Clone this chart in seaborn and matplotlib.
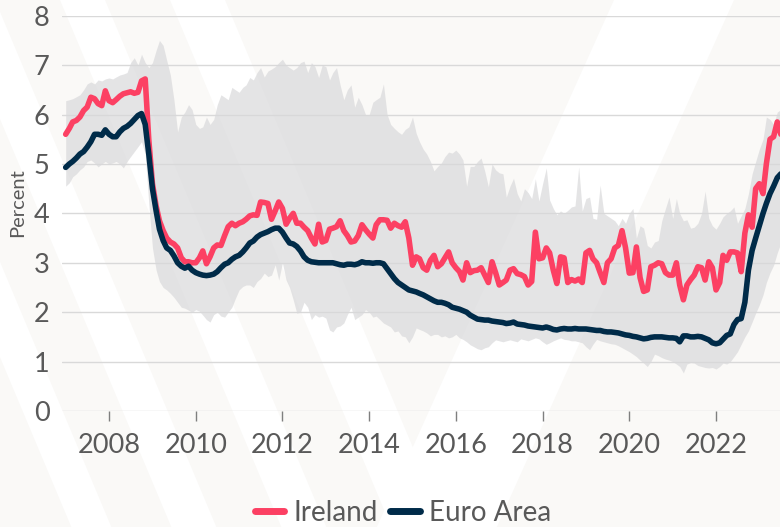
import numpy as np
import pandas as pd
import matplotlib
matplotlib.use("Agg")
import matplotlib.pyplot as plt
import matplotlib.dates as mdates
from matplotlib.lines import Line2D
from matplotlib.patches import Polygon
import seaborn as sns

# ---------------- data (monthly, Jan 2007 - Jul 2023) ----------------
months = pd.date_range("2007-01-01", periods=199, freq="MS")

ireland = [
    5.60, 5.72, 5.85, 5.88, 5.95, 6.08, 6.15, 6.35, 6.32, 6.22, 6.18, 6.48,
    6.28, 6.24, 6.30, 6.37, 6.42, 6.44, 6.46, 6.43, 6.45, 6.68, 6.72, 5.50,
    4.60, 4.15, 3.85, 3.65, 3.50, 3.42, 3.38, 3.30, 3.10, 3.02, 3.02, 3.00,
    3.00, 3.10, 3.24, 2.98, 3.12, 3.30, 3.36, 3.35, 3.55, 3.73, 3.80, 3.75,
    3.80, 3.83, 3.88, 3.95, 3.97, 3.96, 4.23, 4.22, 4.20, 3.88, 4.05, 4.23,
    4.10, 3.78, 3.90, 4.00, 3.80, 3.80, 3.72, 3.65, 3.50, 3.38, 3.78, 3.42,
    3.45, 3.68, 3.70, 3.73, 3.85, 3.65, 3.55, 3.42, 3.44, 3.55, 3.77, 3.67,
    3.58, 3.50, 3.77, 3.87, 3.87, 3.86, 3.70, 3.80, 3.75, 3.72, 3.83, 3.50,
    2.95, 3.12, 3.08, 2.90, 2.85, 3.05, 3.15, 2.92, 2.98, 3.10, 3.22, 3.00,
    2.90, 2.82, 2.65, 3.00, 2.80, 2.84, 2.85, 2.90, 2.75, 2.60, 3.02, 2.80,
    2.55, 2.60, 2.65, 2.85, 2.88, 2.78, 2.76, 2.72, 2.55, 2.62, 3.62, 3.08,
    3.10, 3.30, 3.20, 2.85, 2.58, 3.12, 3.10, 2.60, 2.66, 2.63, 2.67, 2.60,
    3.20, 3.25, 3.08, 3.00, 2.80, 2.60, 3.00, 3.08, 3.30, 3.35, 3.65, 3.30,
    2.79, 2.80, 3.32, 2.70, 2.42, 2.45, 2.92, 2.95, 3.00, 2.98, 2.80, 2.75,
    2.75, 3.00, 2.55, 2.25, 2.55, 2.66, 2.75, 2.92, 2.90, 2.65, 3.02, 2.90,
    2.45, 2.60, 3.15, 3.05, 3.22, 3.22, 3.20, 2.82, 3.60, 3.97, 3.72, 4.50,
    4.60, 4.40, 5.00, 5.50, 5.55, 5.85, 5.60,
]

euro_area = [
    4.93, 5.00, 5.05, 5.12, 5.20, 5.25, 5.34, 5.45, 5.60, 5.60, 5.58, 5.69,
    5.60, 5.55, 5.55, 5.65, 5.72, 5.76, 5.82, 5.90, 5.98, 6.02, 5.80, 5.20,
    4.50, 4.05, 3.68, 3.45, 3.30, 3.25, 3.14, 3.00, 2.93, 2.89, 2.93, 2.85,
    2.80, 2.77, 2.75, 2.74, 2.75, 2.77, 2.82, 2.90, 2.97, 3.00, 3.07, 3.12,
    3.15, 3.22, 3.30, 3.40, 3.44, 3.52, 3.57, 3.60, 3.63, 3.67, 3.70, 3.70,
    3.62, 3.50, 3.40, 3.38, 3.33, 3.24, 3.12, 3.05, 3.02, 3.01, 3.00, 3.00,
    3.00, 3.00, 3.00, 2.98, 2.96, 2.95, 2.97, 2.97, 2.96, 2.98, 3.02, 3.00,
    3.00, 2.99, 3.00, 3.00, 2.98, 2.88, 2.78, 2.68, 2.60, 2.55, 2.50, 2.45,
    2.43, 2.41, 2.38, 2.35, 2.31, 2.27, 2.23, 2.20, 2.20, 2.18, 2.15, 2.10,
    2.08, 2.06, 2.03, 2.00, 1.94, 1.90, 1.86, 1.85, 1.84, 1.84, 1.82, 1.81,
    1.80, 1.79, 1.77, 1.78, 1.80, 1.76, 1.75, 1.74, 1.72, 1.71, 1.70, 1.69,
    1.68, 1.70, 1.68, 1.65, 1.64, 1.66, 1.67, 1.66, 1.66, 1.67, 1.66, 1.66,
    1.66, 1.65, 1.64, 1.63, 1.63, 1.61, 1.60, 1.60, 1.59, 1.58, 1.56, 1.54,
    1.53, 1.51, 1.50, 1.48, 1.46, 1.47, 1.49, 1.50, 1.50, 1.50, 1.49, 1.48,
    1.48, 1.47, 1.40, 1.52, 1.52, 1.50, 1.50, 1.51, 1.50, 1.47, 1.44, 1.38,
    1.36, 1.38, 1.45, 1.53, 1.56, 1.75, 1.85, 1.87, 2.20, 2.85, 3.25, 3.50,
    3.75, 4.00, 4.20, 4.40, 4.55, 4.72, 4.80,
]

band_high = [
    6.28, 6.30, 6.32, 6.36, 6.40, 6.50, 6.62, 6.66, 6.62, 6.70, 6.68, 6.72,
    6.74, 6.72, 6.76, 6.80, 6.82, 6.85, 7.05, 7.15, 7.00, 7.22, 7.05, 6.95,
    7.05, 7.30, 7.50, 7.40, 7.10, 6.80, 6.30, 5.65, 5.95, 6.05, 6.20, 6.10,
    5.80, 5.72, 5.75, 5.95, 5.80, 5.90, 6.20, 6.40, 6.35, 6.30, 6.55, 6.50,
    6.45, 6.55, 6.60, 6.75, 6.70, 6.85, 6.95, 6.76, 6.88, 6.92, 6.97, 7.05,
    7.12, 7.00, 6.95, 6.90, 6.95, 7.05, 7.08, 6.85, 7.05, 6.97, 6.75, 7.00,
    6.97, 6.70, 6.85, 6.95, 6.60, 6.30, 6.50, 6.60, 6.15, 6.35, 6.20, 6.00,
    6.00, 6.25, 6.30, 6.35, 6.62, 6.00, 5.80, 5.72, 5.65, 5.60, 5.70, 5.75,
    5.95, 5.62, 5.45, 5.30, 5.20, 5.05, 4.86, 4.95, 5.02, 5.15, 5.24, 5.22,
    5.28, 5.20, 5.08, 4.55, 4.95, 4.95, 5.05, 5.12, 4.85, 4.54, 5.00, 4.88,
    4.82, 4.80, 4.33, 4.55, 4.71, 4.40, 4.25, 4.50, 4.42, 4.30, 4.70, 4.25,
    4.60, 4.92, 4.27, 4.10, 3.97, 4.05, 4.00, 4.06, 4.13, 4.15, 4.94, 4.05,
    4.30, 4.33, 3.90, 3.88, 4.57, 4.00, 3.95, 3.90, 3.85, 3.75, 3.90, 3.80,
    4.00, 4.10, 3.50, 3.75, 3.70, 3.35, 3.30, 3.42, 3.45, 3.85, 4.10, 4.33,
    3.90, 4.30, 4.00, 3.85, 3.87, 3.70, 3.72, 3.80, 4.00, 4.45, 3.90, 3.75,
    3.68, 3.80, 3.93, 4.00, 4.05, 4.13, 3.80, 3.95, 4.10, 4.40, 4.80, 5.05,
    5.30, 5.50, 5.95, 5.90, 5.80, 6.05, 6.10,
]

band_low = [
    4.55, 4.62, 4.74, 4.80, 4.88, 4.94, 5.05, 5.08, 5.02, 4.94, 5.00, 5.05,
    5.00, 5.02, 5.05, 5.00, 4.92, 5.05, 5.15, 5.25, 5.35, 5.45, 5.20, 4.20,
    3.30, 2.85, 2.62, 2.50, 2.45, 2.38, 2.30, 2.20, 2.10, 2.08, 2.04, 2.00,
    2.05, 2.02, 1.94, 1.85, 1.80, 1.95, 2.00, 1.92, 1.90, 2.00, 2.10, 2.28,
    2.45, 2.52, 2.55, 2.55, 2.50, 2.62, 2.68, 2.79, 2.72, 2.75, 2.96, 2.65,
    3.00, 2.65, 2.50, 2.25, 1.98, 2.00, 2.20, 2.10, 1.85, 1.95, 1.90, 1.92,
    1.88, 1.64, 1.60, 1.70, 1.72, 1.78, 1.95, 2.10, 1.85, 1.90, 1.95, 2.05,
    2.00, 1.90, 1.92, 1.85, 1.78, 1.74, 1.70, 1.60, 1.62, 1.52, 1.50, 1.38,
    1.50, 1.68, 1.65, 1.62, 1.58, 1.52, 1.55, 1.55, 1.50, 1.52, 1.48, 1.50,
    1.55, 1.48, 1.45, 1.40, 1.34, 1.30, 1.26, 1.24, 1.28, 1.30, 1.38, 1.44,
    1.42, 1.40, 1.42, 1.44, 1.42, 1.40, 1.46, 1.44, 1.42, 1.45, 1.48, 1.46,
    1.40, 1.35, 1.38, 1.42, 1.45, 1.48, 1.45, 1.44, 1.42, 1.42, 1.40, 1.38,
    1.30, 1.24, 1.35, 1.45, 1.42, 1.40, 1.38, 1.36, 1.35, 1.32, 1.28, 1.24,
    1.20, 1.15, 1.10, 1.03, 0.97, 0.90, 1.00, 1.15, 1.12, 1.08, 1.05, 1.03,
    1.00, 0.95, 0.90, 0.77, 0.95, 0.98, 0.97, 0.92, 0.90, 0.88, 0.87, 0.88,
    0.85, 0.90, 0.97, 0.95, 1.00, 1.10, 1.20, 1.35, 1.50, 1.62, 1.80, 1.98,
    2.15, 2.35, 2.60, 2.80, 2.95, 3.20, 3.40,
]

series_names = ["Ireland", "Euro Area"]
y_ticks = [0, 1, 2, 3, 4, 5, 6, 7, 8]
x_tick_years = [2008, 2010, 2012, 2014, 2016, 2018, 2020, 2022]
y_label = "Percent"

# ---------------- styling ----------------
sns.set_theme(style="white")
plt.rcParams["font.family"] = ["Lato", "DejaVu Sans"]

palette = {"Ireland": "#FC4063", "Euro Area": "#002B49"}
text_grey = "#595959"
bg = "#FAF9F7"

W, H = 780, 527
fig = plt.figure(figsize=(W / 100, H / 100), dpi=100, facecolor=bg)

# faint diagonal watermark stripes in a background axes (pixel coords)
bg_ax = fig.add_axes([0, 0, 1, 1], zorder=-10)
bg_ax.set_xlim(0, W)
bg_ax.set_ylim(H, 0)
bg_ax.axis("off")

def stripe(x_top, width, slope):
    pts = [(x_top, 0), (x_top + width, 0),
           (x_top + width + slope * H, H), (x_top + slope * H, H)]
    bg_ax.add_patch(Polygon(pts, closed=True, facecolor="white",
                            edgecolor="none"))

for xt, w in [(-150, 40), (-50, 45), (60, 45), (170, 55)]:
    stripe(xt, w, 0.42)
for xt, w in [(614, 120)]:
    stripe(xt, w, -0.45)

ax = fig.add_axes([62 / W, 1 - 411 / H, (W - 62) / W, (411 - 15.7) / H], zorder=1)
ax.set_facecolor("none")

# band
ax.fill_between(months, band_low, band_high, color="#D8D8DA", alpha=0.68,
                linewidth=0, zorder=1)

df = pd.DataFrame({
    "date": list(months) * 2,
    "value": ireland + euro_area,
    "series": ["Ireland"] * len(months) + ["Euro Area"] * len(months),
})
sns.lineplot(data=df, x="date", y="value", hue="series", hue_order=series_names,
             palette=palette, linewidth=4.0, legend=False, ax=ax, zorder=3)

ax.set_ylim(0, 8)
ax.set_yticks(y_ticks)
ax.set_xlim(pd.Timestamp("2006-12-01"), pd.Timestamp("2023-06-24"))
ax.set_xticks([pd.Timestamp(f"{y}-01-01") for y in x_tick_years])
ax.xaxis.set_major_formatter(mdates.DateFormatter("%Y"))

ax.grid(axis="y", color="#D9D9D9", linewidth=1.0)
ax.grid(axis="x", visible=False)
for s in ax.spines.values():
    s.set_visible(False)

ax.tick_params(axis="y", length=0, pad=9, labelsize=19.5, labelcolor=text_grey)
ax.tick_params(axis="x", direction="out", length=7, width=1, color="#7F7F7F",
               pad=9, labelsize=19.5, labelcolor=text_grey, bottom=True)

ax.set_xlabel("")
ax.set_ylabel(y_label, fontsize=14.5, color=text_grey)
ax.yaxis.set_label_coords(-(62 - 26) / (W - 62), (411 - 203) / (411 - 15.7))

handles = [Line2D([0], [0], color=palette[n], linewidth=5) for n in series_names]
fig.legend(handles, series_names, loc="center", bbox_to_anchor=(403 / W, 1 - 513 / H),
           ncol=2, frameon=False, fontsize=20, labelcolor=text_grey,
           handlelength=1.05, handletextpad=0.35, columnspacing=0.45,
           borderpad=0, borderaxespad=0)

fig.savefig("out.png", dpi=100, facecolor=bg)
